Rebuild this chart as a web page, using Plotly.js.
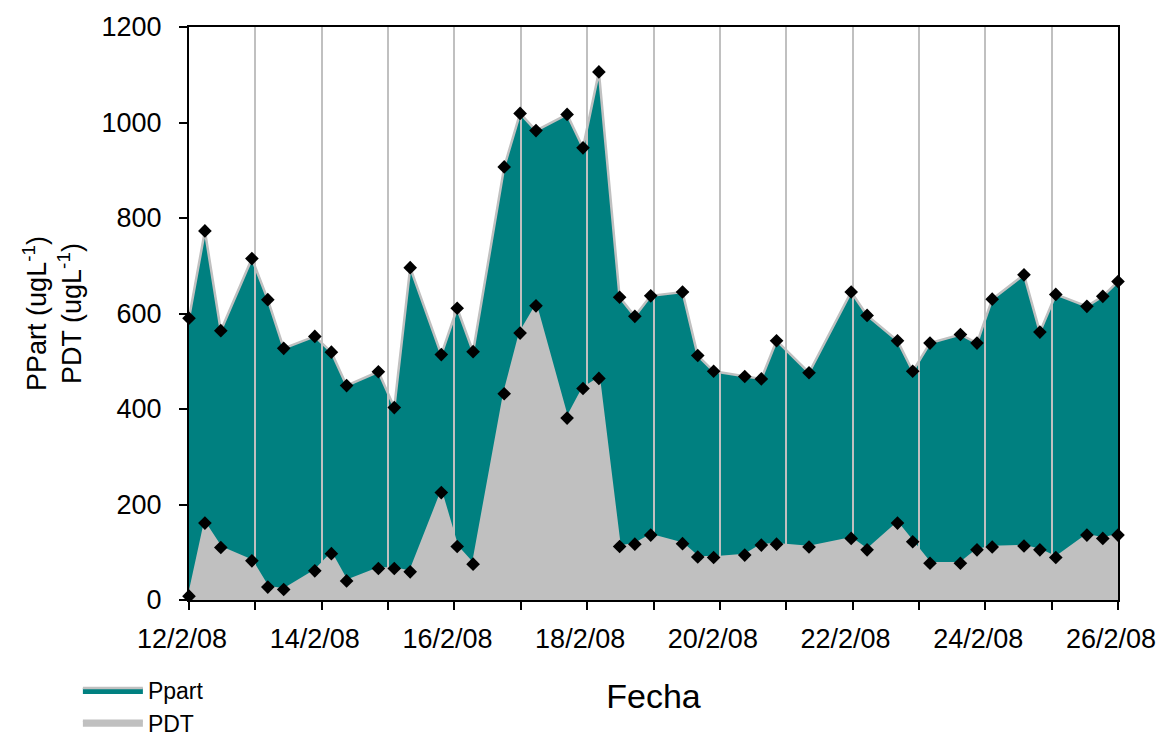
<!DOCTYPE html>
<html>
<head>
<meta charset="utf-8">
<script src="https://cdn.plot.ly/plotly-3.0.1.min.js"></script>
<style>
  html, body { margin: 0; padding: 0; background: #fff; }
  #chart { width: 1159px; height: 736px; }
</style>
</head>
<body>
<div id="chart"></div>
<script>
// Sampling times
const fechas = [
  "2008-02-12 00:00", "2008-02-12 05:45", "2008-02-12 11:30", "2008-02-12 22:45",
  "2008-02-13 04:30", "2008-02-13 10:15", "2008-02-13 21:30", "2008-02-14 03:30",
  "2008-02-14 09:00", "2008-02-14 20:30", "2008-02-15 02:15", "2008-02-15 08:00",
  "2008-02-15 19:15", "2008-02-16 01:00", "2008-02-16 06:45", "2008-02-16 18:00",
  "2008-02-16 23:45", "2008-02-17 05:30", "2008-02-17 16:45", "2008-02-17 22:30",
  "2008-02-18 04:15", "2008-02-18 11:45", "2008-02-18 17:15", "2008-02-18 23:00",
  "2008-02-19 10:30", "2008-02-19 16:00", "2008-02-19 21:45", "2008-02-20 09:00",
  "2008-02-20 15:00", "2008-02-20 20:30", "2008-02-21 08:15", "2008-02-21 23:30",
  "2008-02-22 05:15", "2008-02-22 16:15", "2008-02-22 21:45", "2008-02-23 04:00",
  "2008-02-23 15:00", "2008-02-23 21:00", "2008-02-24 02:30", "2008-02-24 14:00",
  "2008-02-24 19:45", "2008-02-25 01:30", "2008-02-25 12:45", "2008-02-25 18:30",
  "2008-02-26 00:00"
];

// Ppart (upper boundary of teal area), ug/L
const ppart = [
  590, 773, 564, 715, 629, 527, 552, 519, 449, 478, 403, 696,
  514, 611, 520, 907, 1019, 983, 1017, 947, 1106, 634, 594, 637,
  645, 512, 479, 468, 463, 543, 476, 645, 596, 543, 479, 538,
  556, 538, 630, 681, 561, 640, 615, 636, 667
];

// PDT (grey area), ug/L
const pdt = [
  8, 161, 110, 82, 27, 22, 61, 97, 40, 66, 66, 59,
  225, 112, 75, 432, 559, 616, 381, 443, 464, 112, 117, 136,
  118, 90, 89, 94, 115, 117, 111, 129, 105, 161, 122, 77,
  77, 105, 111, 113, 105, 89, 136, 129, 136
];

// Axis ticks
const dias = [
  "2008-02-12", "2008-02-13", "2008-02-14", "2008-02-15", "2008-02-16",
  "2008-02-17", "2008-02-18", "2008-02-19", "2008-02-20", "2008-02-21",
  "2008-02-22", "2008-02-23", "2008-02-24", "2008-02-25", "2008-02-26"
];
const etiquetasDias = [
  "12/2/08", "", "14/2/08", "", "16/2/08", "", "18/2/08", "",
  "20/2/08", "", "22/2/08", "", "24/2/08", "", "26/2/08"
];
const yTicks = [0, 200, 400, 600, 800, 1000, 1200];

const FONT = "Liberation Sans, Arial, Helvetica, sans-serif";
const TEAL = "#008080";
const GREY = "#c0c0c0";
const xRange = [dias[0], dias[dias.length - 1]];

const traces = [
  {
    type: "scatter", mode: "lines", name: "Ppart",
    x: fechas, y: ppart, xaxis: "x", yaxis: "y",
    fill: "tozeroy", fillcolor: TEAL,
    line: { color: GREY, width: 2.5 },
    hoverinfo: "skip"
  },
  {
    type: "scatter", mode: "lines", name: "PDT",
    x: fechas, y: pdt, xaxis: "x", yaxis: "y",
    fill: "tozeroy", fillcolor: GREY,
    line: { color: GREY, width: 2.5 },
    hoverinfo: "skip"
  },
  {
    type: "scatter", mode: "markers", name: "Ppart",
    x: fechas, y: ppart, xaxis: "x2", yaxis: "y2",
    marker: { symbol: "diamond", size: 10.5, color: "#000" },
    cliponaxis: false, showlegend: false
  },
  {
    type: "scatter", mode: "markers", name: "PDT",
    x: fechas, y: pdt, xaxis: "x2", yaxis: "y2",
    marker: { symbol: "diamond", size: 10.5, color: "#000" },
    cliponaxis: false, showlegend: false
  }
];

const layout = {
  width: 1159, height: 736,
  margin: { l: 189, r: 41, t: 27, b: 136, autoexpand: false },
  paper_bgcolor: "#fff", plot_bgcolor: "rgba(0,0,0,0)",
  font: { family: FONT, size: 26, color: "#000" },
  showlegend: true,
  legend: {
    x: -0.1196, xanchor: "left", y: -0.1195, yanchor: "top",
    orientation: "v", traceorder: "normal",
    font: { family: FONT, size: 23, color: "#000" },
    itemwidth: 60, tracegroupgap: 0, bgcolor: "rgba(0,0,0,0)"
  },
  xaxis: {
    type: "date", range: xRange, domain: [0, 1], anchor: "y",
    tickmode: "array", tickvals: dias, ticktext: etiquetasDias,
    ticks: "outside", ticklen: 8, tickwidth: 2, tickcolor: "#000",
    tickfont: { family: FONT, size: 27, color: "#000" },
    ticklabelstandoff: 6, ticklabelshift: -7,
    showgrid: false, zeroline: false,
    showline: true, linecolor: "#000", linewidth: 2, mirror: true,
    title: { text: "Fecha", font: { family: FONT, size: 34, color: "#000" }, standoff: 31 }
  },
  yaxis: {
    range: [0, 1200], domain: [0, 1], anchor: "x",
    tickmode: "array", tickvals: yTicks,
    ticks: "outside", ticklen: 8, tickwidth: 2, tickcolor: "#000",
    tickfont: { family: FONT, size: 27, color: "#000" },
    ticklabelstandoff: 12,
    showgrid: false, zeroline: false,
    showline: true, linecolor: "#000", linewidth: 2, mirror: true,
    automargin: true,
    title: {
      text: "PPart (ugL<sup>-1</sup>)<br>PDT (ugL<sup>-1</sup>)",
      font: { family: FONT, size: 27, color: "#000" },
      standoff: 12
    }
  },
  xaxis2: {
    type: "date", range: xRange, domain: [0, 1], anchor: "y2",
    tickmode: "array", tickvals: dias.slice(1, -1),
    showticklabels: false, ticks: "",
    showgrid: true, gridcolor: GREY, gridwidth: 2,
    zeroline: false, showline: false
  },
  yaxis2: {
    range: [0, 1200], domain: [0, 1], anchor: "x2",
    showticklabels: false, ticks: "", showgrid: false,
    zeroline: false, showline: false
  }
};

Plotly.newPlot("chart", traces, layout, { displayModeBar: false, staticPlot: true });
</script>
</body>
</html>
